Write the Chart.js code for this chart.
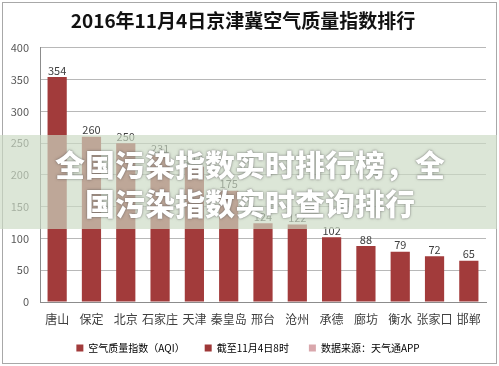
<!DOCTYPE html>
<html>
<head>
<meta charset="utf-8">
<script src="https://cdn.jsdelivr.net/npm/chart.js@4"></script>
<style>
  html, body { margin: 0; padding: 0; background: #fff; }
  #wrap { position: relative; width: 499px; height: 366px; overflow: hidden; }
  #c { position: absolute; left: 0; top: 0; }
  #frame { position: absolute; left: 2px; top: 2px; width: 493px; height: 360px; border: 1px solid #a8a8a8; pointer-events: none; }
  #band { position: absolute; left: 0; top: 135px; width: 497px; height: 94px; background: rgba(204,218,196,0.68); }
  #bandText { position: absolute; left: 52px; top: 9px; width: 396px; text-align: center;
    font-family: "Noto Sans CJK SC", sans-serif; font-weight: 900; font-size: 30px; line-height: 39px;
    color: #fff; text-shadow: 0 0 3px rgba(80,80,80,0.6), 0 0 1px rgba(80,80,80,0.6); }
</style>
</head>
<body>
<div id="wrap">
  <canvas id="c" width="499" height="366"></canvas>
  <div id="frame"></div>
  <div id="band"><div id="bandText"></div></div>
</div>
<script>
const titleText = '2016年11月4日京津冀空气质量指数排行';
const categories = ['唐山','保定','北京','石家庄','天津','秦皇岛','邢台','沧州','承德','廊坊','衡水','张家口','邯郸'];
const aqiValues = [354, 260, 250, 231, 213, 175, 124, 122, 102, 88, 79, 72, 65];
const yTickMin = 0;
const yTickMax = 400;
const yTickStep = 50;
const legendLabels = ['空气质量指数（AQI）', '截至11月4日8时', '数据来源：天气通APP'];
const bannerText = '全国污染指数实时排行榜，全国污染指数实时查询排行';

document.getElementById('bandText').textContent = bannerText;

const FONT = '"Noto Sans CJK SC", "Noto Sans", sans-serif';
const barColor = '#A23B3B';
const legendColors = ['#A23B3B', '#9E3737', '#D9A7AC'];

const valueLabels = {
  id: 'valueLabels',
  afterDatasetsDraw(chart) {
    const ctx = chart.ctx;
    const meta = chart.getDatasetMeta(0);
    ctx.save();
    ctx.font = '11px ' + FONT;
    ctx.fillStyle = '#404040';
    ctx.textAlign = 'center';
    ctx.textBaseline = 'bottom';
    meta.data.forEach((bar, i) => {
      ctx.fillText(String(chart.data.datasets[0].data[i]), bar.x, bar.y - 1);
    });
    ctx.restore();
  }
};

const LEGEND_H = 30;
const LEGEND_SHIFT = 13;
const LEGEND_DX = 5;
const legendFix = {
  id: 'legendFix',
  afterInit(chart) {
    const lg = chart.legend;
    if (!lg) return;
    const origFit = lg.fit.bind(lg);
    lg.fit = function () {
      origFit();
      this.height = LEGEND_H;
    };
    const origDraw = lg.draw.bind(lg);
    lg.draw = function () {
      const t = this.top, l = this.left, r = this.right;
      this.top = t - LEGEND_SHIFT;
      this.left = l + LEGEND_DX;
      this.right = r + LEGEND_DX;
      origDraw();
      this.top = t; this.left = l; this.right = r;
    };
  }
};

new Chart(document.getElementById('c'), {
  type: 'bar',
  data: {
    labels: categories,
    datasets: [{
      label: legendLabels[0],
      data: aqiValues,
      backgroundColor: barColor,
      borderWidth: 0,
      barPercentage: 0.56,
      categoryPercentage: 1.0
    }]
  },
  options: {
    responsive: false,
    animation: false,
    devicePixelRatio: 1,
    layout: { padding: { left: 0, right: 13, top: 0, bottom: 0 } },
    plugins: {
      tooltip: { enabled: false },
      title: {
        display: true,
        text: titleText,
        color: '#111',
        font: { family: FONT, size: 19, weight: 'bold' },
        padding: { top: 9, bottom: 16 }
      },
      legend: {
        display: true,
        position: 'bottom',
        labels: {
          boxWidth: 7,
          boxHeight: 7,
          padding: 20,
          color: '#404040',
          font: { family: FONT, size: 10 },
          generateLabels: () => legendLabels.map((t, i) => ({
            text: t,
            fillStyle: legendColors[i],
            strokeStyle: legendColors[i],
            lineWidth: 0,
            hidden: false,
            datasetIndex: 0
          }))
        }
      }
    },
    scales: {
      x: {
        grid: { display: false, drawTicks: false },
        border: { display: true, color: '#8c8c8c', width: 1 },
        ticks: { color: '#404040', font: { family: FONT, size: 12 }, padding: 10, maxRotation: 0, autoSkip: false },
        afterFit(scale) { scale.height = 34; }
      },
      y: {
        min: yTickMin,
        max: yTickMax,
        ticks: { stepSize: yTickStep, color: '#595959', font: { family: FONT, size: 11 }, padding: 11 },
        grid: { color: '#b8b8b8', drawTicks: false, lineWidth: 1 },
        border: { display: true, color: '#8c8c8c', width: 1 },
        afterFit(scale) { scale.width = 40; }
      }
    }
  },
  plugins: [valueLabels, legendFix]
});
</script>
</body>
</html>
